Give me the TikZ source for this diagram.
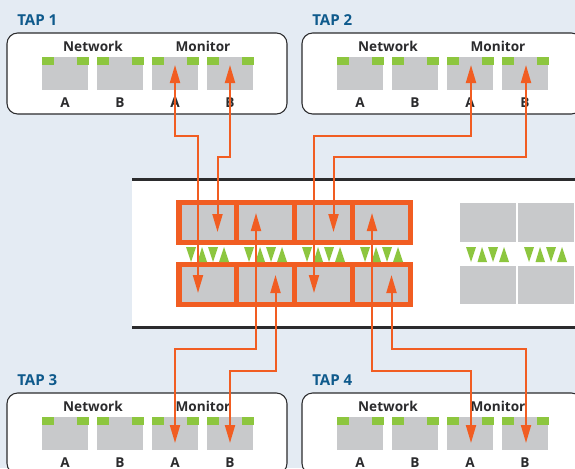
\documentclass[tikz,border=0pt]{standalone}
\usepackage{fontspec}
\setmainfont{Open Sans}
\usetikzlibrary{arrows.meta}
\definecolor{pagebg}{HTML}{E4EBF3}
\definecolor{portgray}{HTML}{C8C9CB}
\definecolor{linkorange}{HTML}{F15D22}
\definecolor{tabgreen}{HTML}{8DC63F}
\definecolor{tapblue}{HTML}{0F5A8C}
\definecolor{inkdark}{HTML}{2B2B2D}

\begin{document}
\begin{tikzpicture}[x=.75pt,y=-.75pt,> = {Triangle[width=7.5pt,length=13.5pt]},
  tapbox/.style={draw=inkdark,fill=white,line width=.8pt,rounded corners=8pt,minimum width=210pt,minimum height=60.75pt,inner sep=0pt},
  port/.style={fill=portgray,minimum width=34.5pt,minimum height=24.75pt,inner sep=0pt},
  caption/.style={font=\bfseries\fontsize{10.2}{12}\selectfont,text=inkdark,inner sep=0pt},
  taptitle/.style={font=\bfseries\fontsize{11.3}{13}\selectfont,text=tapblue,inner sep=0pt,anchor=west},
  cell/.style={draw=linkorange,line width=4pt,fill=portgray,minimum width=43.3pt,minimum height=30pt,inner sep=0pt},
  sparecell/.style={fill=portgray,minimum width=42pt,minimum height=29pt,inner sep=0pt},
  link/.style={linkorange,line width=1.5pt,<->}]
\fill[pagebg] (0,0) rectangle (575,468);
\clip (0,0) rectangle (575,468);

% appliance
\fill[white] (132,179) rectangle (575,327);
\draw[inkdark,line width=2.25pt] (132,179) -- (575,179);
\draw[inkdark,line width=2.25pt] (132,327) -- (575,327);

% taps
\foreach \n/\dx/\dy in {1/0/0,2/295/0,3/0/360,4/295/360}{
  \begin{scope}[shift={(\dx,\dy)}]
    \node[taptitle] (title\n) at (17,20) {TAP \n};
    \node[tapbox] (tap\n) at (147,73.5) {};
    \node[caption] (net\n) at (93,46) {Network};
    \node[caption] (mon\n) at (203,46) {Monitor};
    \foreach \k/\x/\lab in {1/65/A,2/120/B,3/175/A,4/230/B}{
      \node[port] (port\n\k) at (\x,73.5) {};
      \fill[tabgreen] (\x-23,57) rectangle (\x-11,65);
      \fill[tabgreen] (\x+12,57) rectangle (\x+24,65);
      \node[caption] (lab\n\k) at (\x,103) {\lab};
    }
  \end{scope}
}

% switch cells
\foreach \k/\x in {1/208,2/265.5,3/323.5,4/381.5}{
  \node[cell] (top\k) at (\x,222.5) {};
  \node[cell] (bot\k) at (\x,284.5) {};
}
\foreach \k/\x in {5/488,6/546}{
  \node[sparecell] (top\k) at (\x,222.5) {};
  \node[sparecell] (bot\k) at (\x,285) {};
}

% green triangles
\foreach \x in {186,244,302,360,466,524}{
  \fill[tabgreen] (\x,247) -- (\x+10,247) -- (\x+5,262) -- cycle;
  \fill[tabgreen] (\x+11.5,262) -- (\x+21,262) -- (\x+16,247) -- cycle;
  \fill[tabgreen] (\x+22,247) -- (\x+32,247) -- (\x+27,262) -- cycle;
  \fill[tabgreen] (\x+33,262) -- (\x+43,262) -- (\x+38,247) -- cycle;
}

% link ends
\coordinate (t1a) at (175,65);
\coordinate (t1b) at (230,65);
\coordinate (t2a) at (471,65);
\coordinate (t2b) at (526,65);
\coordinate (t3a) at (175,443);
\coordinate (t3b) at (230,443);
\coordinate (t4a) at (471,443);
\coordinate (t4b) at (526,443);
\coordinate (c1a) at (198,293);
\coordinate (c1b) at (217.5,232);
\coordinate (c2a) at (314,293);
\coordinate (c2b) at (333.5,232);
\coordinate (c3a) at (256,213);
\coordinate (c3b) at (275.5,275);
\coordinate (c4a) at (372,213);
\coordinate (c4b) at (391.5,275);

\draw[link] (t1a) -- ++(0,71) -| (c1a);
\draw[link] (t1b) -- ++(0,92) -| (c1b);
\draw[link] (t2a) -- ++(0,71) -| (c2a);
\draw[link] (t2b) -- ++(0,92) -| (c2b);
\draw[link] (t3a) -- ++(0,-94) -| (c3a);
\draw[link] (t3b) -- ++(0,-72) -| (c3b);
\draw[link] (t4a) -- ++(0,-72) -| (c4a);
\draw[link] (t4b) -- ++(0,-94) -| (c4b);
\end{tikzpicture}
\end{document}
